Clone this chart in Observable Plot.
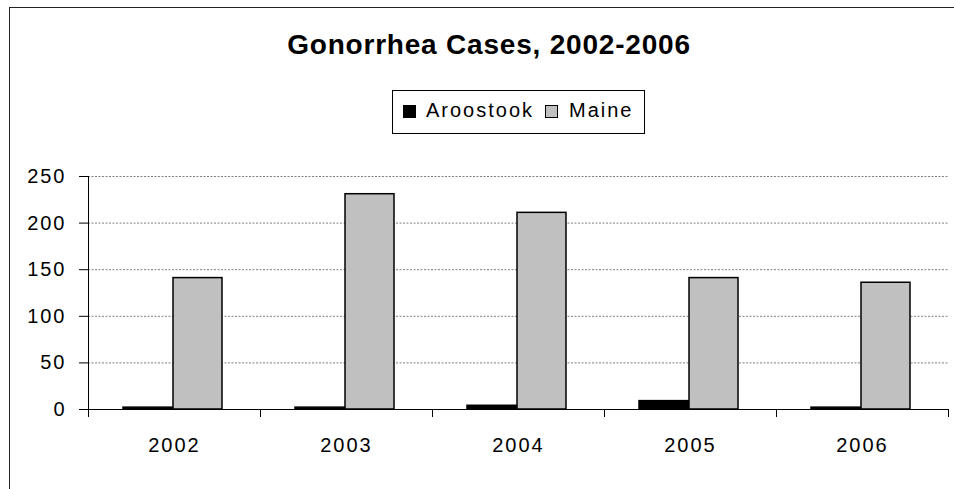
<!DOCTYPE html>
<html><head><meta charset="utf-8">
<script src="https://cdn.jsdelivr.net/npm/d3@7"></script>
<script src="https://cdn.jsdelivr.net/npm/@observablehq/plot@0.6"></script>
<style>
body{margin:0;background:#fff;font-family:"Liberation Sans",Arial,sans-serif;color:#000;}
#wrap{position:relative;width:954px;height:489px;overflow:hidden;background:#fff;}
#chart{position:absolute;left:0;top:0;}
#chart svg text{letter-spacing:2px;}
#frame{position:absolute;left:9px;top:7px;width:1000px;height:1000px;border:1.5px solid #222;box-sizing:border-box;pointer-events:none;}
#title{position:absolute;left:0;width:978px;top:31px;line-height:28px;text-align:center;font-weight:bold;font-size:28px;letter-spacing:0.8px;white-space:nowrap;}
#legend{position:absolute;left:392px;top:90px;width:253px;height:44px;border:1px solid #000;box-sizing:border-box;background:#fff;}
.item{position:absolute;top:9px;font-size:20px;line-height:20px;letter-spacing:2px;white-space:nowrap;}
.sw{position:absolute;width:13px;height:13px;box-sizing:border-box;border:1px solid #000;}
</style>
</head><body>
<div id="wrap">
  <div id="chart"></div>
  <div id="frame"></div>
  <div id="title"></div>
  <div id="legend"></div>
</div>
<script>
const years = ["2002", "2003", "2004", "2005", "2006"];
const seriesNames = ["Aroostook", "Maine"];
const seriesColors = ["#000000", "#c0c0c0"];
const aroostook = [2, 2, 4, 9, 2];
const maine = [141, 231, 211, 141, 136];
const yTicks = [0, 50, 100, 150, 200, 250];
const titleText = "Gonorrhea Cases, 2002-2006";

const dataA = years.map((y, i) => ({year: y, value: aroostook[i], series: seriesNames[0]}));
const dataM = years.map((y, i) => ({year: y, value: maine[i], series: seriesNames[1]}));

const chart = Plot.plot({
  width: 954,
  height: 489,
  marginLeft: 88,
  marginRight: 6,
  marginTop: 176,
  marginBottom: 80,
  x: {domain: years, padding: 0, label: null},
  y: {domain: [0, 250], label: null},
  style: {fontFamily: "'Liberation Sans', Arial, sans-serif", fontSize: "20px", background: "transparent", color: "#000", overflow: "visible"},
  marks: [
    Plot.gridY(yTicks, {stroke: "#808080", strokeOpacity: 1, strokeWidth: 1, strokeDasharray: "2,1.5"}),
    Plot.barY(dataA, {x: "year", y: "value", fill: seriesColors[0], stroke: "#000", strokeWidth: 1.5, insetLeft: 35, insetRight: 87}),
    Plot.barY(dataM, {x: "year", y: "value", fill: seriesColors[1], stroke: "#000", strokeWidth: 1.5, insetLeft: 85, insetRight: 38}),
    Plot.ruleY([0], {stroke: "#000", strokeWidth: 1}),
    Plot.ruleX([years[0]], {x: d => d, y1: 250, y2: 0, dx: -86, insetBottom: -8, stroke: "#000"}),
    Plot.ruleX(years.slice(1), {x: d => d, y1: 0, y2: 0, dx: -86, insetBottom: -8, stroke: "#000"}),
    Plot.ruleX([years[years.length - 1]], {x: d => d, y1: 0, y2: 0, dx: 86, insetBottom: -8, stroke: "#000"}),
    Plot.axisY(yTicks, {tickSize: 9, tickPadding: 13, fontSize: 20, stroke: "#000", fill: "#000"}),
    Plot.axisX({tickSize: 0, tickPadding: 28, fontSize: 20, fill: "#000"})
  ]
});
document.getElementById("chart").appendChild(chart);

document.getElementById("title").textContent = titleText;

const legend = document.getElementById("legend");
const legendPos = [{sw: 10, tx: 33}, {sw: 152, tx: 176}];
seriesNames.forEach((name, i) => {
  const sw = document.createElement("div");
  sw.className = "sw";
  sw.style.left = legendPos[i].sw + "px";
  sw.style.top = "14px";
  sw.style.background = seriesColors[i];
  legend.appendChild(sw);
  const t = document.createElement("div");
  t.className = "item";
  t.style.left = legendPos[i].tx + "px";
  t.textContent = name;
  legend.appendChild(t);
});
</script>
</body></html>
